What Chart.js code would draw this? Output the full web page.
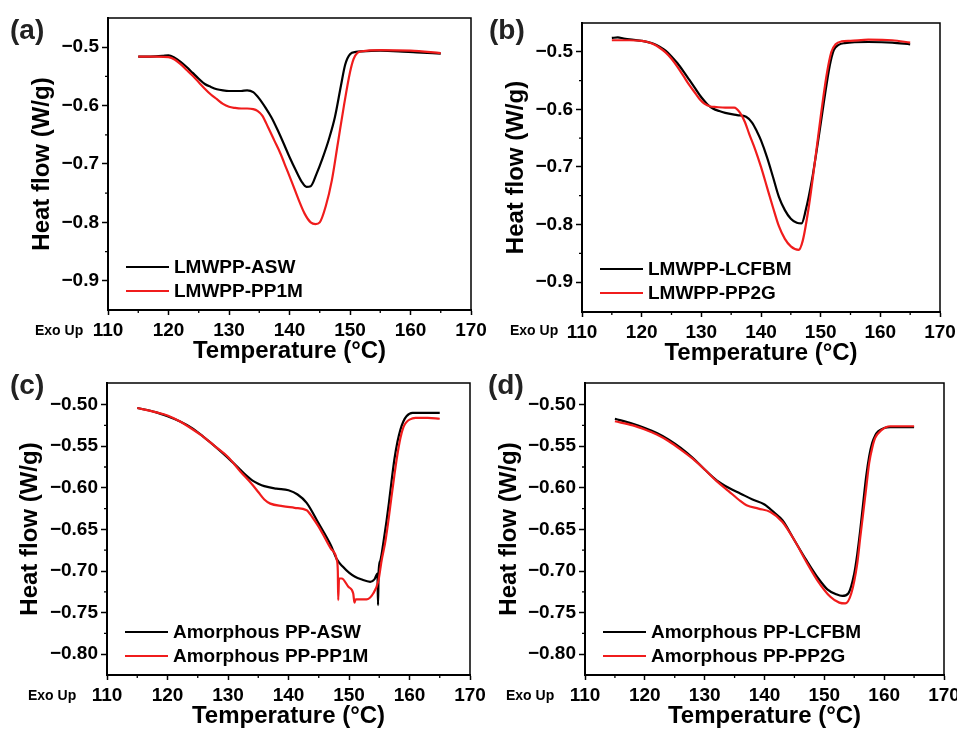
<!DOCTYPE html>
<html>
<head>
<meta charset="utf-8">
<script src="https://cdn.jsdelivr.net/npm/chart.js@4.4.1/dist/chart.umd.min.js"></script>
<style>
  body { margin: 0; background: #fff; overflow: hidden; }
  #wrap { position: relative; width: 957px; height: 731px; overflow: hidden; font-family: "Liberation Sans", Arial, sans-serif; }
  canvas { position: absolute; }
  .tag { position: absolute; font-weight: bold; font-size: 28px; line-height: 1; color: #222; }
  .exo { position: absolute; font-weight: bold; font-size: 14px; line-height: 1; color: #000; }
</style>
</head>
<body>
<div id="wrap">
  <canvas id="ca" width="495" height="370" style="left:0;top:0"></canvas>
  <canvas id="cb" width="500" height="370" style="left:478px;top:0"></canvas>
  <canvas id="cc" width="495" height="371" style="left:0;top:360px"></canvas>
  <canvas id="cd" width="500" height="371" style="left:478px;top:360px"></canvas>
  <div class="tag" style="left:10px;top:16px">(a)</div>
  <div class="tag" style="left:489px;top:16px">(b)</div>
  <div class="tag" style="left:10px;top:371px">(c)</div>
  <div class="tag" style="left:488px;top:371px">(d)</div>
  <div class="exo" style="left:35px;top:323px">Exo Up</div>
  <div class="exo" style="left:510px;top:323px">Exo Up</div>
  <div class="exo" style="left:28px;top:688px">Exo Up</div>
  <div class="exo" style="left:506px;top:688px">Exo Up</div>
</div>
<script>
// ---- data ----
const xTicks = [110, 120, 130, 140, 150, 160, 170];
const yTicksAB = [-0.9, -0.8, -0.7, -0.6, -0.5];
const yTicksCD = [-0.8, -0.75, -0.7, -0.65, -0.6, -0.55, -0.5];

// (a)
const aAswT = [115, 117, 119, 120, 121, 122, 123, 124, 125, 126, 127, 128, 129, 130, 131, 132, 133, 134, 135, 136, 137, 138, 139, 140, 141, 142, 142.8, 143.5, 144.5, 145.5, 146.5, 147.5, 148.5, 149.2, 150, 151, 152, 155, 158, 161, 165];
const aAswH = [-0.516, -0.516, -0.515, -0.514, -0.518, -0.525, -0.534, -0.544, -0.554, -0.563, -0.568, -0.572, -0.574, -0.575, -0.575, -0.575, -0.574, -0.577, -0.588, -0.603, -0.620, -0.641, -0.664, -0.688, -0.710, -0.730, -0.739, -0.738, -0.716, -0.689, -0.658, -0.620, -0.566, -0.530, -0.512, -0.508, -0.507, -0.506, -0.507, -0.509, -0.511];
const aPp1mT = [115, 118, 120, 121, 122, 123, 124, 125, 126, 127, 128, 129, 130, 131, 132, 133, 134, 134.7, 135.5, 136.5, 137.5, 138.5, 139.5, 140.5, 141.5, 142.5, 143.5, 144.3, 145, 146, 147, 148, 149, 150, 150.6, 151.2, 152, 155, 160, 165];
const aPp1mH = [-0.516, -0.516, -0.517, -0.521, -0.529, -0.539, -0.549, -0.560, -0.571, -0.581, -0.589, -0.597, -0.602, -0.604, -0.605, -0.605, -0.606, -0.609, -0.617, -0.638, -0.660, -0.682, -0.708, -0.734, -0.761, -0.785, -0.800, -0.803, -0.800, -0.772, -0.728, -0.664, -0.600, -0.543, -0.520, -0.510, -0.507, -0.505, -0.506, -0.510];

// (b)
const bLcfbmT = [115, 116, 117, 120, 122, 123, 124, 125, 126, 127, 128, 129, 130, 131, 132, 133, 134, 136, 137.5, 138.5, 139.3, 140, 141, 142, 143, 144, 145, 146, 146.8, 147.5, 148.5, 149.5, 150.5, 151.5, 152.2, 153, 154, 158, 162, 165];
const bLcfbmH = [-0.476, -0.475, -0.477, -0.481, -0.486, -0.491, -0.498, -0.508, -0.520, -0.534, -0.549, -0.564, -0.579, -0.591, -0.599, -0.603, -0.606, -0.610, -0.613, -0.623, -0.638, -0.654, -0.683, -0.717, -0.752, -0.775, -0.790, -0.797, -0.798, -0.775, -0.725, -0.660, -0.590, -0.525, -0.497, -0.488, -0.485, -0.483, -0.484, -0.487];
const bPp2gT = [115, 118, 120, 121, 122, 123, 124, 125, 126, 127, 128, 129, 129.7, 130.5, 131.5, 132.5, 134, 135.5, 136.5, 137.3, 138, 139, 140, 141, 142, 143, 144, 145, 146.3, 147, 148, 149, 150, 151, 151.8, 152.5, 153.5, 155, 158, 162, 165];
const bPp2gH = [-0.480, -0.480, -0.481, -0.483, -0.487, -0.493, -0.501, -0.512, -0.526, -0.542, -0.558, -0.572, -0.582, -0.590, -0.595, -0.596, -0.597, -0.597, -0.606, -0.622, -0.642, -0.669, -0.700, -0.735, -0.770, -0.803, -0.825, -0.838, -0.844, -0.828, -0.770, -0.694, -0.613, -0.540, -0.500, -0.487, -0.482, -0.481, -0.479, -0.480, -0.484];

// (c)
const cAswT = [115, 118, 120, 122, 124, 126, 128, 130, 132, 133, 134, 135, 136, 138, 140, 141.5, 143, 145, 147, 148, 149, 150, 151, 152, 153.5, 154.2, 154.7, 154.8, 154.9, 155.2, 155.7, 156.2, 156.6, 157, 157.5, 158, 158.5, 159, 159.5, 160.5, 162, 165];
const cAswH = [-0.504, -0.509, -0.514, -0.520, -0.528, -0.539, -0.551, -0.564, -0.578, -0.585, -0.591, -0.595, -0.598, -0.601, -0.603, -0.608, -0.618, -0.643, -0.669, -0.686, -0.695, -0.702, -0.707, -0.710, -0.713, -0.710, -0.703, -0.741, -0.700, -0.687, -0.665, -0.640, -0.618, -0.594, -0.566, -0.545, -0.530, -0.520, -0.514, -0.510, -0.510, -0.510];
const cPp1mT = [115, 118, 120, 122, 124, 126, 128, 130, 132, 134, 135, 136, 137, 139, 141, 143, 144, 145, 146, 147, 148, 148.15, 148.22, 148.35, 148.8, 149.9, 150.7, 150.9, 151.1, 152.9, 154, 154.85, 155.4, 156, 156.5, 157, 157.5, 158, 158.5, 159, 159.5, 160, 161, 163, 165];
const cPp1mH = [-0.504, -0.509, -0.513, -0.520, -0.529, -0.539, -0.551, -0.563, -0.580, -0.596, -0.605, -0.614, -0.619, -0.622, -0.624, -0.627, -0.636, -0.647, -0.660, -0.673, -0.687, -0.700, -0.735, -0.709, -0.709, -0.719, -0.727, -0.738, -0.734, -0.734, -0.727, -0.712, -0.687, -0.665, -0.640, -0.612, -0.585, -0.560, -0.540, -0.527, -0.521, -0.518, -0.516, -0.516, -0.517];

// (d)
const dLcfbmT = [115, 118, 120, 122, 124, 126, 128, 130, 132, 134, 136, 138, 140, 141.5, 143, 145, 147, 149, 150.5, 152, 153, 154, 155, 155.5, 156, 156.5, 157, 157.5, 158, 158.5, 159, 160, 161, 165];
const dLcfbmH = [-0.517, -0.523, -0.528, -0.534, -0.542, -0.552, -0.564, -0.578, -0.591, -0.600, -0.607, -0.614, -0.620, -0.629, -0.639, -0.663, -0.687, -0.709, -0.722, -0.728, -0.730, -0.727, -0.703, -0.680, -0.651, -0.618, -0.586, -0.562, -0.546, -0.537, -0.532, -0.528, -0.527, -0.527];
const dPp2gT = [115, 118, 120, 122, 124, 126, 128, 130, 132, 134, 136, 137, 139, 141, 143, 145, 147, 149, 151, 152.5, 153.5, 154.5, 155.5, 156, 156.5, 157, 157.5, 158, 158.5, 159.5, 161, 165];
const dPp2gH = [-0.520, -0.525, -0.530, -0.536, -0.544, -0.554, -0.565, -0.578, -0.592, -0.604, -0.616, -0.621, -0.625, -0.629, -0.641, -0.663, -0.689, -0.713, -0.731, -0.738, -0.739, -0.727, -0.691, -0.660, -0.630, -0.600, -0.570, -0.552, -0.540, -0.531, -0.526, -0.526];

const FONT = '"Liberation Sans", Arial, sans-serif';
const RED = '#f01c1c';

const pts = (xs, ys) => xs.map((x, i) => ({ x: x, y: ys[i] }));

// frame on top/right, minor ticks and an inside legend
const framePlugin = {
  id: 'frame',
  afterDraw(chart) {
    const { ctx, chartArea: a, scales } = chart;
    ctx.save();
    ctx.strokeStyle = '#000';
    ctx.lineWidth = 1.5;
    ctx.beginPath();
    ctx.moveTo(a.left, a.top);
    ctx.lineTo(a.right, a.top);
    ctx.lineTo(a.right, a.bottom);
    ctx.stroke();

    // minor ticks halfway between the major ones
    ctx.lineWidth = 1.3;
    ctx.beginPath();
    ['x', 'y'].forEach(k => {
      const s = scales[k];
      const t = s.ticks.map(o => o.value);
      for (let i = 0; i < t.length - 1; i++) {
        const p = s.getPixelForValue((t[i] + t[i + 1]) / 2);
        if (k === 'x') { ctx.moveTo(p, a.bottom); ctx.lineTo(p, a.bottom + 3); }
        else { ctx.moveTo(a.left, p); ctx.lineTo(a.left - 3, p); }
      }
    });
    ctx.stroke();

    // legend
    ctx.font = 'bold 19px ' + FONT;
    ctx.textBaseline = 'middle';
    ctx.textAlign = 'left';
    chart.data.datasets.forEach((ds, i) => {
      const y = a.bottom - 43 + 24 * i;
      ctx.strokeStyle = ds.borderColor;
      ctx.lineWidth = 2.2;
      ctx.beginPath();
      ctx.moveTo(a.left + 18, y);
      ctx.lineTo(a.left + 61, y);
      ctx.stroke();
      ctx.fillStyle = '#000';
      ctx.fillText(ds.label, a.left + 66, y + 1);
    });
    ctx.restore();
  }
};

function panel(id, p) {
  return new Chart(document.getElementById(id), {
    type: 'line',
    data: {
      datasets: [
        { label: p.names[0], data: pts(p.s1[0], p.s1[1]), borderColor: '#000', order: 1 },
        { label: p.names[1], data: pts(p.s2[0], p.s2[1]), borderColor: RED, order: 0 }
      ]
    },
    options: {
      responsive: false,
      animation: false,
      devicePixelRatio: 1,
      layout: { padding: { top: p.padTop, right: p.padRight, left: 0, bottom: 0 } },
      elements: {
        point: { radius: 0 },
        line: { borderWidth: 2.2, cubicInterpolationMode: 'monotone', fill: false }
      },
      plugins: { legend: { display: false }, tooltip: { enabled: false } },
      scales: {
        x: {
          type: 'linear',
          min: 110,
          max: 170,
          afterBuildTicks: s => { s.ticks = xTicks.map(v => ({ value: v })); },
          afterFit: s => { s.height = p.xH; },
          border: { color: '#000', width: 2 },
          grid: { drawOnChartArea: false, drawTicks: true, tickLength: 5, tickColor: '#000', tickWidth: 1.5 },
          ticks: { color: '#000', font: { family: FONT, size: 19, weight: 'bold' }, padding: 4, maxRotation: 0 },
          title: { display: true, text: 'Temperature (\u00b0C)', color: '#000',
                   font: { family: FONT, size: 24, weight: 'bold', lineHeight: 1 },
                   padding: { top: 0, bottom: p.xTitlePad } }
        },
        y: {
          type: 'linear',
          min: p.ymin,
          max: p.ymax,
          afterBuildTicks: s => { s.ticks = p.yTicks.map(v => ({ value: v })); },
          afterFit: s => { s.width = p.yW; },
          border: { color: '#000', width: 2 },
          grid: { drawOnChartArea: false, drawTicks: true, tickLength: 6, tickColor: '#000', tickWidth: 1.5 },
          ticks: { color: '#000', font: { family: FONT, size: 19, weight: 'bold' }, padding: 3,
                   callback: v => v.toFixed(p.dec).replace('-', '\u2212') },
          title: { display: true, text: 'Heat flow (W/g)', color: '#000',
                   font: { family: FONT, size: 24, weight: 'bold', lineHeight: 1 },
                   padding: { top: p.yTitlePad, bottom: 0 } }
        }
      }
    },
    plugins: [framePlugin]
  });
}

panel('ca', { names: ['LMWPP-ASW', 'LMWPP-PP1M'], s1: [aAswT, aAswH], s2: [aPp1mT, aPp1mH],
  padTop: 18, padRight: 24, yW: 108, xH: 60, yTitlePad: 30, xTitlePad: 6.5,
  ymin: -0.95, ymax: -0.45, yTicks: yTicksAB, dec: 1 });
panel('cb', { names: ['LMWPP-LCFBM', 'LMWPP-PP2G'], s1: [bLcfbmT, bLcfbmH], s2: [bPp2gT, bPp2gH],
  padTop: 23, padRight: 38, yW: 104, xH: 58, yTitlePad: 26.5, xTitlePad: 4.5,
  ymin: -0.952, ymax: -0.45, yTicks: yTicksAB, dec: 1 });
panel('cc', { names: ['Amorphous PP-ASW', 'Amorphous PP-PP1M'], s1: [cAswT, cAswH], s2: [cPp1mT, cPp1mH],
  padTop: 23, padRight: 25, yW: 107, xH: 56, yTitlePad: 18, xTitlePad: 2.5,
  ymin: -0.825, ymax: -0.474, yTicks: yTicksCD, dec: 2 });
panel('cd', { names: ['Amorphous PP-LCFBM', 'Amorphous PP-PP2G'], s1: [dLcfbmT, dLcfbmH], s2: [dPp2gT, dPp2gH],
  padTop: 23, padRight: 34, yW: 107, xH: 56, yTitlePad: 19.5, xTitlePad: 2.5,
  ymin: -0.825, ymax: -0.474, yTicks: yTicksCD, dec: 2 });
</script>
</body>
</html>
